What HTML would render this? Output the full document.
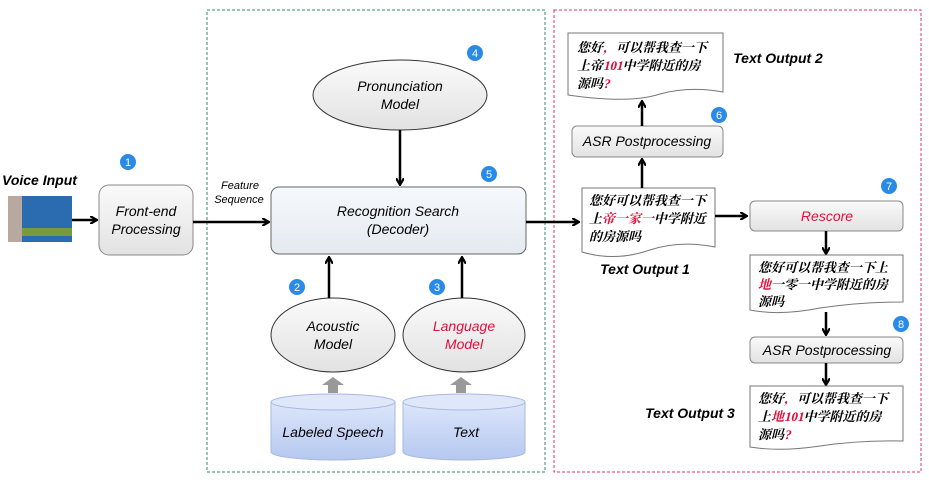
<!DOCTYPE html>
<html><head><meta charset="utf-8"><style>
body{margin:0;background:#fff}
svg{display:block}
.t{font-family:"Liberation Sans","DejaVu Sans",sans-serif;font-style:italic}
.c{font-family:"Liberation Serif","Noto Serif CJK SC",serif;font-weight:bold;font-size:13px}
</style></head><body>
<svg width="929" height="482" viewBox="0 0 929 482" xmlns="http://www.w3.org/2000/svg">
<defs>
<marker id="a" markerWidth="8" markerHeight="8" refX="6" refY="4" orient="auto" markerUnits="userSpaceOnUse"><path d="M0,0 L7,4 L0,8" fill="none" stroke="#000" stroke-width="2.2"/></marker>
<linearGradient id="g" x1="0" y1="0" x2="0" y2="1"><stop offset="0" stop-color="#fafafa"/><stop offset="1" stop-color="#e2e2e2"/></linearGradient>
<linearGradient id="cy" x1="0" y1="0" x2="0" y2="1"><stop offset="0" stop-color="#dde6fa"/><stop offset="1" stop-color="#b5c8f0"/></linearGradient>
<linearGradient id="rs" x1="0" y1="0" x2="0" y2="1"><stop offset="0" stop-color="#f6f9fc"/><stop offset="1" stop-color="#e4eaf0"/></linearGradient>
</defs>
<rect x="207" y="10" width="338" height="462" fill="none" stroke="#3a8a6a" stroke-dasharray="3,2"/>
<rect x="554" y="10" width="367" height="462" fill="none" stroke="#e0306a" stroke-dasharray="3,2"/>
<text x="2" y="185" class="t" font-weight="bold" font-size="14">Voice Input</text>
<rect x="8" y="196" width="64" height="46" fill="#2b6cb0"/>
<rect x="8" y="196" width="14" height="46" fill="#b8a8a0"/>
<rect x="22" y="228" width="50" height="8" fill="#7a9a40"/>
<line x1="72" y1="220" x2="96" y2="220" stroke="#000" stroke-width="2.5" marker-end="url(#a)"/>
<rect x="99" y="185" width="94" height="70" rx="10" fill="url(#g)" stroke="#888"/>
<text x="146" y="216" class="t" font-size="14" text-anchor="middle">Front-end</text>
<text x="146" y="234" class="t" font-size="14" text-anchor="middle">Processing</text>
<line x1="193" y1="222" x2="268" y2="222" stroke="#000" stroke-width="2.5" marker-end="url(#a)"/>
<text x="240" y="189" class="t" font-size="11" text-anchor="middle">Feature</text>
<text x="239" y="203" class="t" font-size="11" text-anchor="middle">Sequence</text>
<rect x="271" y="187" width="255" height="67" rx="8" fill="url(#rs)" stroke="#666"/>
<text x="398" y="216" class="t" font-size="14" text-anchor="middle">Recognition Search</text>
<text x="398" y="234" class="t" font-size="14" text-anchor="middle">(Decoder)</text>
<ellipse cx="400" cy="95" rx="87" ry="35" fill="url(#g)" stroke="#333"/>
<text x="400" y="91" class="t" font-size="14" text-anchor="middle">Pronunciation</text>
<text x="400" y="109" class="t" font-size="14" text-anchor="middle">Model</text>
<line x1="400" y1="130" x2="400" y2="184" stroke="#000" stroke-width="2.5" marker-end="url(#a)"/>
<ellipse cx="333" cy="335" rx="62" ry="37" fill="url(#g)" stroke="#333"/>
<text x="333" y="331" class="t" font-size="14" text-anchor="middle">Acoustic</text>
<text x="333" y="349" class="t" font-size="14" text-anchor="middle">Model</text>
<ellipse cx="464" cy="335" rx="61" ry="37" fill="url(#g)" stroke="#333"/>
<text x="464" y="331" class="t" font-size="14" text-anchor="middle" fill="#e0103a">Language</text>
<text x="464" y="349" class="t" font-size="14" text-anchor="middle" fill="#e0103a">Model</text>
<line x1="329" y1="298" x2="329" y2="258" stroke="#000" stroke-width="2.5" marker-end="url(#a)"/>
<line x1="462" y1="298" x2="462" y2="258" stroke="#000" stroke-width="2.5" marker-end="url(#a)"/>
<path d="M328,393 L328,385 L322,385 L333,377 L344,385 L338,385 L338,393Z" fill="#999"/>
<path d="M456,393 L456,385 L450,385 L461,377 L472,385 L466,385 L466,393Z" fill="#999"/>
<path d="M271,402 L271,452 A62,8 0 0 0 395,452 L395,402Z" fill="url(#cy)" stroke="#a8b8e0"/>
<ellipse cx="333" cy="402" rx="62" ry="8" fill="#dfe7fb" stroke="#a8b8e0"/>
<text x="333" y="437" class="t" font-size="14" text-anchor="middle">Labeled Speech</text>
<path d="M403,402 L403,452 A61,8 0 0 0 525,452 L525,402Z" fill="url(#cy)" stroke="#a8b8e0"/>
<ellipse cx="464" cy="402" rx="61" ry="8" fill="#dfe7fb" stroke="#a8b8e0"/>
<text x="466" y="437" class="t" font-size="14" text-anchor="middle">Text</text>
<!-- right -->
<line x1="526" y1="222" x2="578" y2="222" stroke="#000" stroke-width="2.5" marker-end="url(#a)"/>
<path d="M582,188 H715 V247 Q680,240 650,250 Q615,262 582,252Z" fill="#fff" stroke="#777"/>
<g transform="translate(589,205) skewX(-14)"><text class="c">您好可以帮我查一下</text></g>
<g transform="translate(589,223) skewX(-14)"><text class="c">上<tspan fill="#e0103a">帝一家一</tspan>中学附近</text></g>
<g transform="translate(589,241) skewX(-14)"><text class="c">的房源吗</text></g>
<text x="645" y="274" class="t" font-weight="bold" font-size="14" text-anchor="middle">Text Output 1</text>
<line x1="642" y1="188" x2="642" y2="160" stroke="#000" stroke-width="2.5" marker-end="url(#a)"/>
<rect x="572" y="126" width="151" height="31" rx="5" fill="url(#g)" stroke="#888"/>
<text x="647" y="146" class="t" font-size="14" text-anchor="middle">ASR Postprocessing</text>
<line x1="642" y1="126" x2="642" y2="102" stroke="#000" stroke-width="2.5" marker-end="url(#a)"/>
<path d="M568,33 H723 V92 Q690,86 660,94 Q630,104 568,95Z" fill="#fff" stroke="#777"/>
<g transform="translate(577,52) skewX(-14)"><text class="c">您好<tspan fill="#e0103a">，</tspan>可以帮我查一下</text></g>
<g transform="translate(577,70) skewX(-14)"><text class="c">上帝<tspan fill="#e0103a">101</tspan>中学附近的房</text></g>
<g transform="translate(577,88) skewX(-14)"><text class="c">源吗<tspan fill="#e0103a">?</tspan></text></g>
<text x="778" y="63" class="t" font-weight="bold" font-size="14" text-anchor="middle">Text Output 2</text>
<line x1="715" y1="216" x2="746" y2="216" stroke="#000" stroke-width="2.5" marker-end="url(#a)"/>
<rect x="750" y="201" width="153" height="30" rx="5" fill="url(#g)" stroke="#888"/>
<text x="827" y="221" class="t" font-size="14" text-anchor="middle" fill="#e0103a">Rescore</text>
<line x1="826" y1="231" x2="826" y2="253" stroke="#000" stroke-width="2.5" marker-end="url(#a)"/>
<path d="M750,255 H903 V302 Q860,302 820,308 Q780,316 750,310Z" fill="#fff" stroke="#777"/>
<g transform="translate(758,272) skewX(-14)"><text class="c">您好可以帮我查一下上</text></g>
<g transform="translate(758,289) skewX(-14)"><text class="c"><tspan fill="#e0103a">地</tspan>一零一中学附近的房</text></g>
<g transform="translate(758,306) skewX(-14)"><text class="c">源吗</text></g>
<line x1="826" y1="312" x2="826" y2="334" stroke="#000" stroke-width="2.5" marker-end="url(#a)"/>
<rect x="750" y="337" width="153" height="26" rx="5" fill="url(#g)" stroke="#888"/>
<text x="827" y="355" class="t" font-size="14" text-anchor="middle">ASR Postprocessing</text>
<line x1="826" y1="363" x2="826" y2="384" stroke="#000" stroke-width="2.5" marker-end="url(#a)"/>
<path d="M750,386 H903 V441 Q860,440 820,446 Q780,452 750,447Z" fill="#fff" stroke="#777"/>
<g transform="translate(758,403) skewX(-14)"><text class="c">您好<tspan fill="#e0103a">，</tspan>可以帮我查一下</text></g>
<g transform="translate(758,421) skewX(-14)"><text class="c">上<tspan fill="#e0103a">地101</tspan>中学附近的房</text></g>
<g transform="translate(758,439) skewX(-14)"><text class="c">源吗<tspan fill="#e0103a">?</tspan></text></g>
<text x="690" y="418" class="t" font-weight="bold" font-size="14" text-anchor="middle">Text Output 3</text>
<g font-family="Liberation Sans,sans-serif" font-size="11" fill="#fff" text-anchor="middle">
<circle cx="128" cy="162" r="8" fill="#2a8ae8"/><text x="128" y="166">1</text>
<circle cx="297" cy="287" r="8" fill="#2a8ae8"/><text x="297" y="291">2</text>
<circle cx="437" cy="287" r="8" fill="#2a8ae8"/><text x="437" y="291">3</text>
<circle cx="475" cy="53" r="8" fill="#2a8ae8"/><text x="475" y="57">4</text>
<circle cx="489" cy="174" r="8" fill="#2a8ae8"/><text x="489" y="178">5</text>
<circle cx="719" cy="115" r="8" fill="#2a8ae8"/><text x="719" y="119">6</text>
<circle cx="889" cy="186" r="8" fill="#2a8ae8"/><text x="889" y="190">7</text>
<circle cx="901" cy="324" r="8" fill="#2a8ae8"/><text x="901" y="328">8</text>
</g>
</svg>
</body></html>
